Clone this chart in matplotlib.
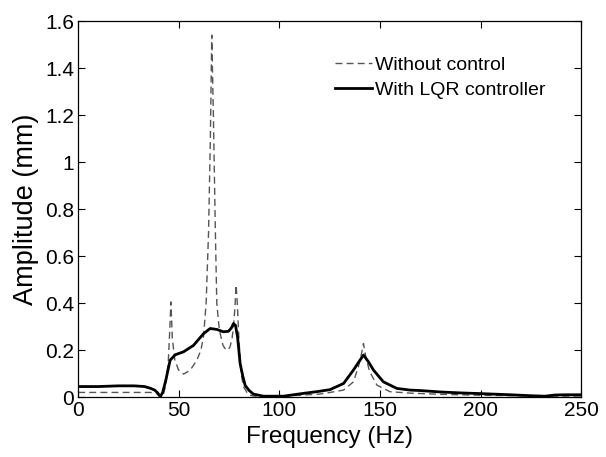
import matplotlib
matplotlib.use("Agg")
import matplotlib.pyplot as plt

plt.rcParams['font.family'] = ['Liberation Sans', 'DejaVu Sans']

# Frequency response without control (dashed)
freq_off = [0, 10, 20, 30, 36, 39, 40.5, 42, 43.5, 44.8,
            45.5, 46.1, 46.8, 48, 49.9, 52.4, 55.7, 59, 61, 62.3,
            63.6, 64.8, 65.7, 66.4, 67.2, 68.2, 68.9, 70, 70.6, 72,
            73, 74.5, 75.5, 76.5, 77.2, 77.9, 78.5, 79.1, 79.7, 80.8,
            82.1, 84.6, 87, 90, 100, 110, 120, 125.2, 131.9, 136.8,
            139.3, 140.7, 141.8, 143, 144.8, 148.5, 155, 165, 180, 200,
            220, 235, 250]
amp_off = [0.02, 0.02, 0.02, 0.02, 0.02, 0.015, 0.005, 0.0, 0.05, 0.15,
           0.28, 0.405, 0.25, 0.16, 0.115, 0.098, 0.115, 0.157, 0.2, 0.257,
           0.4, 0.7, 1.1, 1.54, 1.2, 0.7, 0.4, 0.3, 0.27, 0.22,
           0.207, 0.2, 0.215, 0.25, 0.3, 0.38, 0.477, 0.4, 0.28, 0.115,
           0.045, 0.01, 0.005, 0.003, 0.004, 0.008, 0.013, 0.02, 0.03, 0.065,
           0.13, 0.18, 0.228, 0.17, 0.11, 0.051, 0.023, 0.017, 0.012, 0.008,
           0.006, 0.004, 0.005]

# Frequency response with LQR controller (solid)
freq_lqr = [0, 10, 20, 28, 33, 35.8, 38, 39.5, 40.8, 42,
            43.5, 45.7, 48.2, 52.4, 57.3, 62.3, 65.6, 68.9, 72.2, 74.7,
            76.2, 77.2, 78.2, 79.2, 80.5, 81.8, 83, 85, 87.1, 92.1,
            102, 112, 120, 125.2, 131.9, 136.8, 139.5, 141.8, 144.3, 146.8,
            151.7, 158.4, 165, 170, 180, 190, 200, 215, 225, 232,
            237, 242, 250]
amp_lqr = [0.045, 0.045, 0.048, 0.048, 0.045, 0.038, 0.03, 0.018, 0.002, 0.02,
           0.07, 0.157, 0.18, 0.193, 0.22, 0.27, 0.292, 0.288, 0.278, 0.28,
           0.295, 0.313, 0.305, 0.257, 0.143, 0.09, 0.05, 0.028, 0.013, 0.004,
           0.004, 0.016, 0.025, 0.032, 0.058, 0.115, 0.15, 0.179, 0.15, 0.115,
           0.065, 0.037, 0.03, 0.028, 0.022, 0.018, 0.015, 0.01, 0.006, 0.004,
           0.009, 0.01, 0.01]

xticks = [0, 50, 100, 150, 200, 250]
yticks = [0, 0.2, 0.4, 0.6, 0.8, 1, 1.2, 1.4, 1.6]
ytick_labels = ['0', '0.2', '0.4', '0.6', '0.8', '1', '1.2', '1.4', '1.6']

fig = plt.figure(figsize=(6.06, 4.57), dpi=100)
ax = fig.add_axes([0.129, 0.131, 0.83, 0.823])

ax.plot(freq_off, amp_off, color='#555555', lw=1.0, dashes=(5, 3), label='Without control')
ax.plot(freq_lqr, amp_lqr, color='black', lw=2.0, label='With LQR controller')

ax.set_xlim(0, 250)
ax.set_ylim(0, 1.6)
ax.set_xticks(xticks)
ax.set_yticks(yticks)
ax.set_yticklabels(ytick_labels)
ax.tick_params(direction='in', top=True, right=True, length=5, labelsize=15, pad=3)
for s in ax.spines.values():
    s.set_linewidth(0.9)

ax.set_xlabel('Frequency (Hz)', fontsize=17.5, labelpad=4)
ax.set_ylabel('Amplitude (mm)', fontsize=19.5, labelpad=4)

ax.legend(loc='upper left', bbox_to_anchor=(335 / 606, 1 - 56 / 457), bbox_transform=fig.transFigure,
          frameon=False, fontsize=14, handlelength=1.9, handletextpad=0.15, labelspacing=0.4,
          borderpad=0, borderaxespad=0)

fig.savefig('out.png', dpi=100)
